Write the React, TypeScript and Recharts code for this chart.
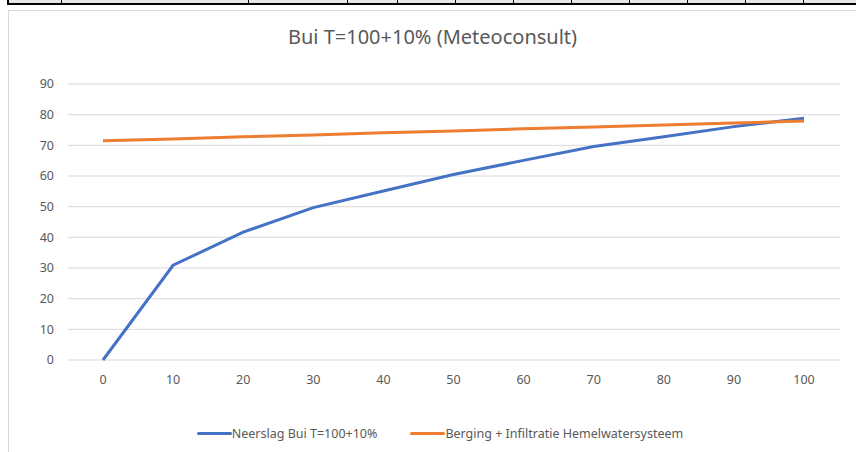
import React from 'react';
import { LineChart, Line, XAxis, YAxis, CartesianGrid } from 'recharts';

const categories = ['0', '10', '20', '30', '40', '50', '60', '70', '80', '90', '100'];
const neerslag = [0, 30.9, 41.7, 49.7, 55.1, 60.5, 65.1, 69.6, 72.8, 76.1, 78.8];
const berging = [71.5, 72.1, 72.8, 73.4, 74.1, 74.7, 75.4, 76.0, 76.6, 77.3, 77.9];
const yTicks = [0, 10, 20, 30, 40, 50, 60, 70, 80, 90];

const seriesNames = {
  neerslag: 'Neerslag Bui T=100+10%',
  berging: 'Berging + Infiltratie Hemelwatersysteem',
};

const FONT = '"Noto Sans", "Open Sans", sans-serif';
const TEXT = '#595959';
const BLUE = '#4472C4';
const ORANGE = '#ED7D31';

const tableCols = [61, 248, 347, 397, 455, 513, 571, 629, 687, 745, 803];

const data = categories.map((c, i) => ({
  x: c,
  neerslag: neerslag[i],
  berging: berging[i],
}));

function ChartLegend() {
  const items = [
    { name: seriesNames.neerslag, color: BLUE },
    { name: seriesNames.berging, color: ORANGE },
  ];
  return (
    <div style={{ display: 'flex', justifyContent: 'center', gap: 33, fontFamily: FONT, fontSize: 12.5, color: TEXT }}>
      {items.map((it) => (
        <div key={it.name} style={{ display: 'flex', alignItems: 'center' }}>
          <span style={{ display: 'inline-block', width: 35, height: 3, background: it.color, borderRadius: 1.5 }} />
          <span>{it.name}</span>
        </div>
      ))}
    </div>
  );
}

export default function App() {
  return (
    <div style={{ position: 'absolute', left: 0, top: 0, width: 856, height: 452, background: '#fff', overflow: 'hidden' }}>
      {/* bottom edge of the table above the chart */}
      <div style={{ position: 'absolute', left: 7, top: 0, width: 849, height: 3, background: '#e6e6e6', borderLeft: '2px solid #000', borderBottom: '2px solid #000' }} />
      {tableCols.map((x) => (
        <div key={x} style={{ position: 'absolute', left: x, top: 0, width: 1, height: 4, background: '#000' }} />
      ))}
      {/* chart frame */}
      <div style={{ position: 'absolute', left: 8, top: 10, width: 860, height: 460, border: '1px solid #d9d9d9' }} />
      <div style={{ position: 'absolute', left: 0, top: 24, width: 865, textAlign: 'center', fontFamily: FONT, fontSize: 20, lineHeight: '26px', color: TEXT }}>
        Bui T=100+10% (Meteoconsult)
      </div>
      <div style={{ position: 'absolute', left: 0, top: 0 }}>
        <LineChart width={856} height={452} data={data} margin={{ top: 84, right: 16, left: 0, bottom: 62 }}>
          <CartesianGrid vertical={false} stroke="#d9d9d9" strokeWidth={1} />
          <XAxis
            dataKey="x"
            height={30}
            axisLine={false}
            tickLine={false}
            tickMargin={9}
            padding={{ left: 35, right: 36 }}
            interval={0}
            tick={{ fontSize: 12.5, fill: TEXT, fontFamily: FONT }}
          />
          <YAxis
            width={68}
            domain={[0, 90]}
            ticks={yTicks}
            axisLine={false}
            tickLine={false}
            tickMargin={8}
            tick={{ fontSize: 12.5, fill: TEXT, fontFamily: FONT }}
          />
          <Line
            type="linear"
            dataKey="neerslag"
            name={seriesNames.neerslag}
            stroke={BLUE}
            strokeWidth={3}
            dot={false}
            isAnimationActive={false}
          />
          <Line
            type="linear"
            dataKey="berging"
            name={seriesNames.berging}
            stroke={ORANGE}
            strokeWidth={3}
            dot={false}
            isAnimationActive={false}
          />
        </LineChart>
      </div>
      <div style={{ position: 'absolute', left: 0, top: 425, width: 880 }}>
        <ChartLegend />
      </div>
    </div>
  );
}
